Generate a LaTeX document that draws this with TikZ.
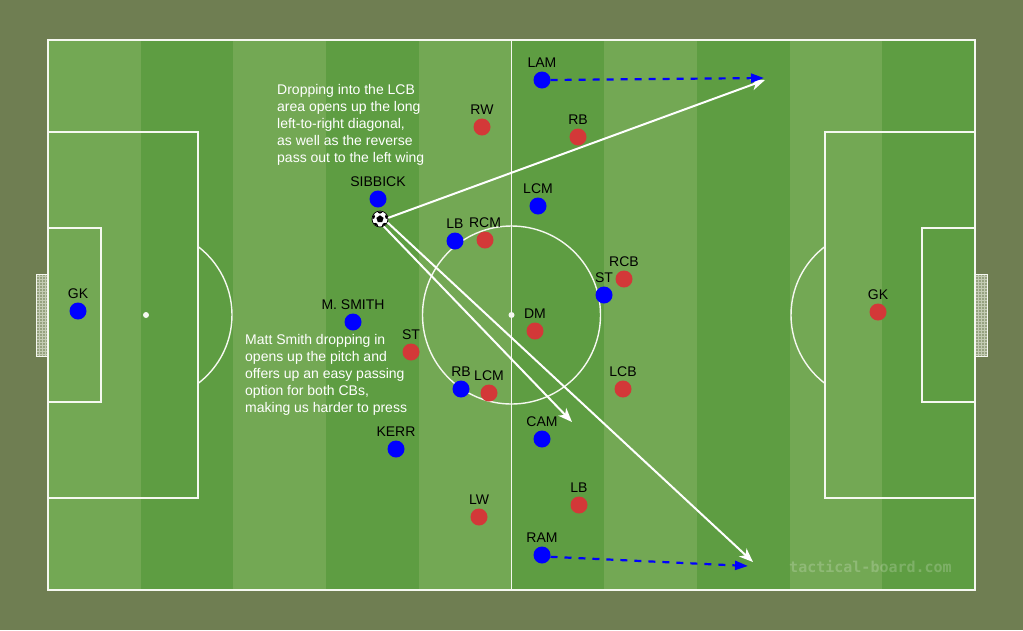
\documentclass[tikz,border=0pt]{standalone}
\usepackage{fontspec}
\setmainfont{Liberation Sans}
\newfontfamily\wmfont{DejaVu Sans Mono}
\usetikzlibrary{arrows.meta,shapes.geometric,patterns,calc}
\definecolor{bgolive}{RGB}{111,126,82}
\definecolor{lightg}{RGB}{115,168,84}
\definecolor{darkg}{RGB}{94,157,66}
\definecolor{redp}{RGB}{211,56,56}
\definecolor{bluep}{RGB}{0,0,255}
\definecolor{netc}{RGB}{150,162,128}
\definecolor{netl}{RGB}{196,204,180}
\definecolor{linec}{RGB}{245,248,240}
\begin{document}
\begin{tikzpicture}[x=1pt,y=-1pt,
  pline/.style={draw=linec,line width=1.4pt},
  lab/.style={font=\fontsize{14}{14}\selectfont,text=black,text height=10pt,text depth=0pt,inner sep=0pt,anchor=center},
  player/.style={circle,minimum size=17pt,inner sep=0pt},
  bluepl/.style={player,fill=bluep},
  redpl/.style={player,fill=redp},
  note/.style={font=\fontsize{14}{17}\selectfont,text=white,align=left,inner sep=0pt,anchor=north west},
  pass/.style={draw=white,line width=2pt,-{Stealth[length=14pt,width=11pt,inset=4pt]}},
  run/.style={draw=bluep,line width=2.2pt,dash pattern=on 7pt off 7pt,-{Triangle[length=13pt,width=9pt]}}]
\fill[bgolive] (0,0) rectangle (1023,630);
\useasboundingbox (0,0) rectangle (1023,630);
% stripes
\foreach \xa/\xb/\c in {48/140.7/lightg,140.7/233.4/darkg,233.4/326.1/lightg,326.1/418.8/darkg,418.8/511.5/lightg,511.5/604.2/darkg,604.2/696.9/lightg,696.9/789.6/darkg,789.6/882.3/lightg,882.3/975/darkg}
  {\fill[\c] (\xa,40) rectangle (\xb,590);}
% goals
\fill[netc] (36,274) rectangle (48,356);
\fill[pattern=grid,pattern color=netl] (36,274) rectangle (48,356);
\draw[draw=linec,line width=0.8pt] (36,274) rectangle (48,356);
\fill[netc] (975,274) rectangle (987,356);
\fill[pattern=grid,pattern color=netl] (975,274) rectangle (987,356);
\draw[draw=linec,line width=0.8pt] (975,274) rectangle (987,356);
% pitch lines
\draw[pline,line width=2pt] (48,40) rectangle (975,590);
\draw[pline] (511.5,40) -- (511.5,590);
\draw[pline] (511.5,315) circle[radius=89];
\draw[pline] (48,132) rectangle (198,498);
\draw[pline] (48,228) rectangle (101,402);
\draw[pline] (825,132) rectangle (975,498);
\draw[pline] (922,228) rectangle (975,402);
\draw[pline] (146,315) ++(-52.8:86) arc[start angle=-52.8,end angle=52.8,radius=86];
\draw[pline] (877,315) ++(127.2:86) arc[start angle=127.2,end angle=232.8,radius=86];
\fill[linec] (511.5,315) circle[radius=3];
\fill[linec] (146,315) circle[radius=3];
\fill[linec] (877,315) circle[radius=3];
% notes
\node[note] (note1) at (277,84) {Dropping into the LCB\\area opens up the long\\left-to-right diagonal,\\as well as the reverse\\pass out to the left wing};
\node[note] (note2) at (245,334.5) {Matt Smith dropping in\\opens up the pitch and\\offers up an easy passing\\option for both CBs,\\making us harder to press};
% watermark
\node[text=white,opacity=0.2,font=\wmfont\bfseries\fontsize{15}{15}\selectfont,inner sep=0pt] (wm) at (870.5,566) {tactical-board.com};
% players and their names
\foreach \n/\c/\px/\py/\t in {
  bgk/bluepl/78/311/GK, sib/bluepl/378/199/SIBBICK, blb/bluepl/455/241/LB,
  msm/bluepl/353/322/M. SMITH, brb/bluepl/461/389/RB, kerr/bluepl/396/449/KERR,
  lam/bluepl/542/80/LAM, blcm/bluepl/538/206/LCM, bst/bluepl/604/295/ST,
  cam/bluepl/542/439/CAM, ram/bluepl/542/555/RAM,
  rrw/redpl/482/127/RW, rrcm/redpl/485/240/RCM, rst/redpl/411/352/ST,
  rlcm/redpl/489/393/LCM, rlw/redpl/479/517/LW, rrb/redpl/578/137/RB,
  rrcb/redpl/624/279/RCB, rdm/redpl/535/331/DM, rlcb/redpl/623/389/LCB,
  rlb/redpl/579/505/LB, rgk/redpl/878/312/GK}
{
  \node[\c] (\n) at (\px,\py) {};
  \node[lab] (\n-name) at ($(\n)+(0,-18)$) {\t};
}
% ball
\node[circle,fill=white,draw=black,line width=0.7pt,minimum size=16pt,inner sep=0pt] (ball) at (380,219) {};
\begin{scope}
  \clip (ball.center) circle[radius=7.6pt];
  \foreach \a in {18,90,162,234,306} {\fill[black] (ball.center) ++(\a:8.2pt) circle[radius=2.8pt];}
\end{scope}
\node[regular polygon,regular polygon sides=5,fill=black,minimum size=7.5pt,inner sep=0pt] (pent) at (ball.center) {};
% passes
\coordinate (t1) at (765,80);
\coordinate (t2) at (572,422);
\coordinate (t3) at (753,562);
\draw[pass] (ball.8) -- (t1);
\draw[pass] (ball.-63) -- (t2);
\draw[pass] (ball.-25) -- (t3);
% runs
\coordinate (r1) at (764,78);
\coordinate (r2) at (748,566);
\draw[run] (lam.east) -- (r1);
\draw[run] (ram.-12) -- (r2);
\end{tikzpicture}
\end{document}
